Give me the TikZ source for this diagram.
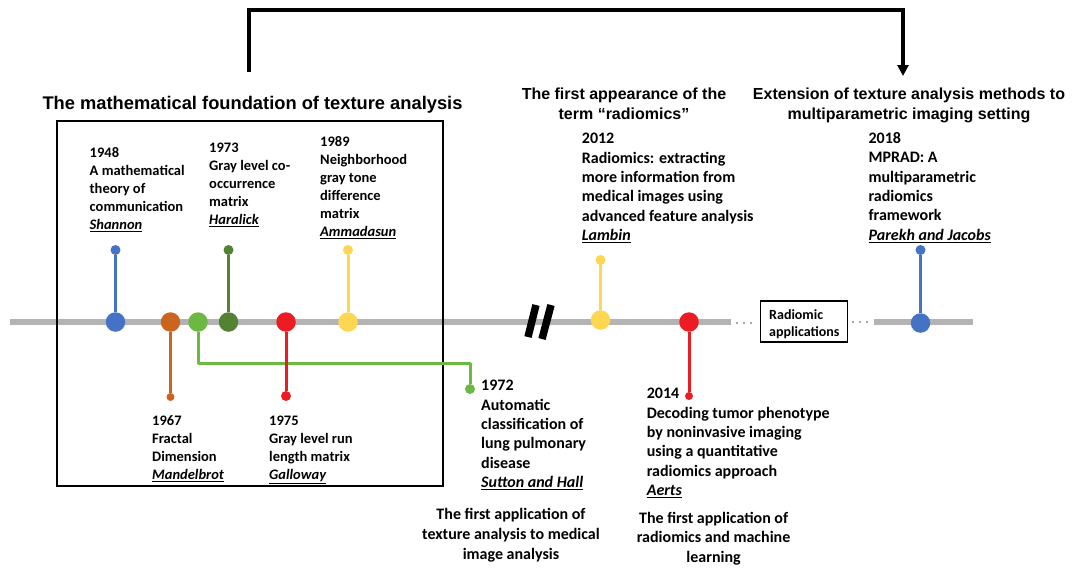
\documentclass[tikz,border=0pt]{standalone}
\usepackage{fontspec}
\setmainfont{Carlito}
\newfontfamily\titlefont{Liberation Sans}
\usetikzlibrary{arrows.meta}
\definecolor{cblue}{HTML}{4472C4}
\definecolor{corange}{HTML}{C9651F}
\definecolor{clgreen}{HTML}{6DB842}
\definecolor{cdgreen}{HTML}{548235}
\definecolor{cred}{HTML}{EC1C24}
\definecolor{cyellow}{HTML}{FDD652}
\definecolor{cgray}{HTML}{B3B3B3}
\definecolor{cdots}{HTML}{8C8C8C}
\newcommand\authname[1]{\underline{\textit{#1}}}
\begin{document}
\begin{tikzpicture}[x=1pt,y=-1pt,
  bigdot/.style={circle, inner sep=0pt, minimum size=19.5pt, fill=#1},
  smalldot/.style={circle, inner sep=0pt, minimum size=10pt, fill=#1},
  tinydot/.style={circle, inner sep=0pt, minimum size=8pt, fill=#1},
  stem/.style={line width=3pt, draw=#1, line join=round},
  timeline/.style={line width=6pt, draw=cgray},
  body/.style={anchor=north west, inner sep=0pt, align=left, font=\bfseries\fontsize{16}{19.4}\selectfont},
  bodysm/.style={body, font=\bfseries\fontsize{14.5}{18}\selectfont},
  ttl/.style={anchor=north, inner sep=0pt, align=center, font=\titlefont\bfseries\fontsize{16}{20}\selectfont},
  caption/.style={anchor=north, inner sep=0pt, align=center, font=\bfseries\fontsize{16}{20}\selectfont},
  ellip/.style={draw=cdots, line width=2.2pt, dash pattern=on 0pt off 7pt, line cap=round},
  breakbar/.style={line width=7.5pt, draw=black}
]
\useasboundingbox (0,0) rectangle (1077,568);

% timeline segments
\coordinate (tA) at (10,322);
\coordinate (tB) at (731,322);
\coordinate (tC) at (874,322);
\coordinate (tD) at (973,322);
\draw[timeline] (tA) -- (tB);
\draw[timeline] (tC) -- (tD);

% break mark
\coordinate (bk1a) at (536,305);
\coordinate (bk1b) at (528,337);
\coordinate (bk2a) at (551,305);
\coordinate (bk2b) at (542,339);
\draw[breakbar] (bk1a) -- (bk1b);
\draw[breakbar] (bk2a) -- (bk2b);

% ellipses and box
\coordinate (el1a) at (737,323);
\coordinate (el1b) at (751.5,323);
\coordinate (el2a) at (853,322);
\coordinate (el2b) at (867.5,322);
\draw[ellip] (el1a) -- (el1b);
\draw[ellip] (el2a) -- (el2b);
\node[draw=black, line width=1.5pt, minimum width=87pt, minimum height=41pt, inner sep=0pt] (rbox) at (804.2,321.5) {};
\node[anchor=north west, inner sep=0pt, align=left, font=\bfseries\fontsize{14}{16.5}\selectfont] (rtxt) at (769,309.5) {Radiomic\\applications};

% foundation box
\node[draw=black, line width=2.5pt, minimum width=386pt, minimum height=365pt, inner sep=0pt] (fbox) at (250,303.5) {};

% bracket arrow
\coordinate (brS) at (249,72);
\coordinate (brA) at (249,10);
\coordinate (brB) at (903,10);
\coordinate (brE) at (903,76);
\draw[line width=3.5pt, line join=miter, -{Triangle[length=11pt,width=11pt]}] (brS) -- (brA) -- (brB) -- (brE);

% dots on timeline
\node[bigdot=cblue] (d1) at (115.5,322) {};
\node[bigdot=corange] (d2) at (170.5,322) {};
\node[bigdot=clgreen] (d3) at (198,322) {};
\node[bigdot=cdgreen] (d4) at (228.5,322) {};
\node[bigdot=cred] (d5) at (286,322) {};
\node[bigdot=cyellow] (d6) at (348,322) {};
\node[bigdot=cyellow] (d7) at (600.5,320) {};
\node[bigdot=cred] (d8) at (689,322) {};
\node[bigdot=cblue] (d9) at (920.5,323) {};

% stem ends
\node[smalldot=cblue] (e1) at (115.5,250) {};
\node[tinydot=corange] (e2) at (170.5,397) {};
\node[smalldot=clgreen] (e3) at (470,389) {};
\node[smalldot=cdgreen] (e4) at (228.5,250) {};
\node[smalldot=cred] (e5) at (286,396) {};
\node[smalldot=cyellow] (e6) at (348,250) {};
\node[smalldot=cyellow] (e7) at (600.5,260) {};
\node[tinydot=cred] (e8) at (689,396) {};
\node[smalldot=cblue] (e9) at (920.5,250) {};
\coordinate (gc) at (0,363);

\draw[stem=cblue] (d1) -- (e1);
\draw[stem=corange] (d2) -- (e2);
\draw[stem=clgreen] (d3) -- (d3 |- gc) -| (e3);
\draw[stem=cdgreen] (d4) -- (e4);
\draw[stem=cred] (d5) -- (e5);
\draw[stem=cyellow] (d6) -- (e6);
\draw[stem=cyellow] (d7) -- (e7);
\draw[stem=cred] (d8) -- (e8);
\draw[stem=cblue] (d9) -- (e9);

% titles
\node[ttl, font=\titlefont\bfseries\fontsize{18.3}{22}\selectfont] (t1) at (252.5,96) {The mathematical foundation of texture analysis};
\node[ttl] (t2) at (624,87.5) {The first appearance of the\\term “radiomics”};
\node[ttl] (t3) at (909,87.5) {Extension of texture analysis methods to\\multiparametric imaging setting};

% event texts
\node[bodysm] (x1948) at (89.5,147.4) {1948\\A mathematical\\theory of\\communication\\\authname{Shannon}};
\node[bodysm] (x1973) at (209,143) {1973\\Gray level co-\\occurrence\\matrix\\\authname{Haralick}};
\node[bodysm] (x1989) at (320,136.4) {1989\\Neighborhood\\gray tone\\difference\\matrix\\\authname{Ammadasun}};
\node[bodysm] (x1967) at (152,415.4) {1967\\Fractal\\Dimension\\\authname{Mandelbrot}};
\node[bodysm] (x1975) at (269,415.4) {1975\\Gray level run\\length matrix\\\authname{Galloway}};
\node[body] (x1972) at (481,380) {1972\\Automatic\\classification of\\lung pulmonary\\disease\\\authname{Sutton and Hall}};
\node[body] (x2012) at (581.7,133) {2012\\Radiomics: extracting\\more information from\\medical images using\\advanced feature analysis\\\authname{Lambin}};
\node[body] (x2014) at (646.6,388) {2014\\Decoding tumor phenotype\\by noninvasive imaging\\using a quantitative\\radiomics approach\\\authname{Aerts}};
\node[body] (x2018) at (868.4,132) {2018\\MPRAD: A\\multiparametric\\radiomics\\framework\\\authname{Parekh and Jacobs}};

% captions
\node[caption] (c1) at (511,508) {The first application of\\texture analysis to medical\\image analysis};
\node[caption, font=\bfseries\fontsize{16}{19.5}\selectfont] (c2) at (713.6,512) {The first application of\\radiomics and machine\\learning};
\end{tikzpicture}
\end{document}
